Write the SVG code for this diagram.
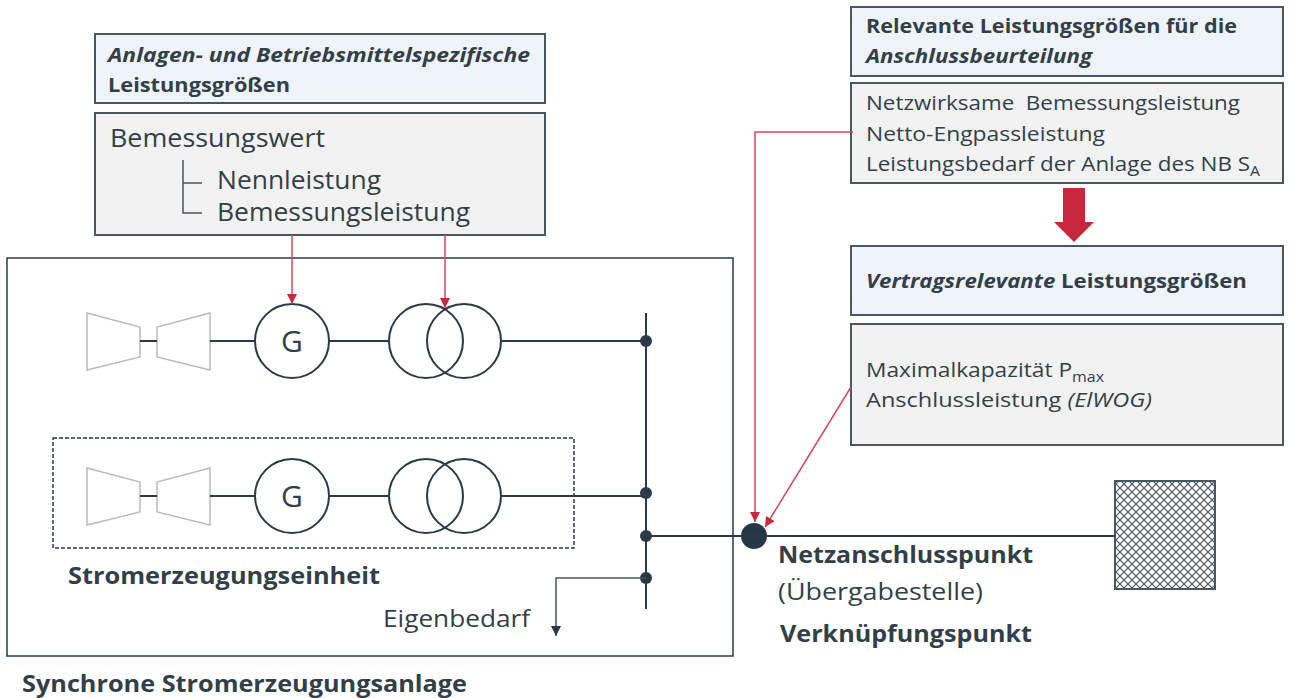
<svg xmlns="http://www.w3.org/2000/svg" width="1295" height="698" viewBox="0 0 1295 698">
<style>
text{font-family:"Open Sans","Noto Sans","Liberation Sans",sans-serif;fill:#333f48}
.hdr{fill:#eef4fa;stroke:#4a5660;stroke-width:2}
.box{fill:#f2f2f2;stroke:#4a5660;stroke-width:2}
.ln{stroke:#2a3a47;stroke-width:2;fill:none}
.thin{stroke:#4a5660;stroke-width:1.5;fill:none}
.turb{stroke:#b8bcc0;stroke-width:1.5;fill:none}
.red{stroke:#d9475c;stroke-width:1.5;fill:none}
.b{font-weight:700}
.i{font-style:italic}
.h{font-size:20px}
.t{font-size:20px}
.big{font-size:25px}
.lab{font-size:23px}
</style>
<defs>
<marker id="ra" viewBox="0 0 10 10" refX="10" refY="5" markerWidth="10" markerHeight="10" markerUnits="userSpaceOnUse" orient="auto"><path d="M0,0 L10,5 L0,10 z" fill="#c8283c"/></marker>
<marker id="ka" viewBox="0 0 10 10" refX="10" refY="5" markerWidth="10" markerHeight="10" markerUnits="userSpaceOnUse" orient="auto"><path d="M0,0 L10,5 L0,10 z" fill="#2a3a47"/></marker>
<pattern id="hatch" width="8" height="8" patternUnits="userSpaceOnUse">
<path d="M0,0 L8,8 M8,0 L0,8" stroke="#4a5660" stroke-width="1.2"/>
</pattern>
</defs>

<g id="outer-plant">
<rect x="7" y="258" width="726" height="398" fill="none" stroke="#2a3a47" stroke-width="1.5"/>
</g>

<g id="unit-box">
<rect x="53" y="438" width="521" height="110" fill="none" stroke="#2a3a47" stroke-width="1.5" stroke-dasharray="4,2"/>
</g>

<g id="left-header">
<rect class="hdr" x="95" y="34" width="450" height="69"/>
<text class="h b i" x="108" y="62" textLength="422" lengthAdjust="spacingAndGlyphs">Anlagen- und Betriebsmittelspezifische</text>
<text class="h b" x="108" y="92" textLength="182" lengthAdjust="spacingAndGlyphs">Leistungsgrößen</text>
</g>

<g id="left-values">
<rect class="box" x="95" y="113" width="450" height="122"/>
<text class="big" x="110" y="147" textLength="215" lengthAdjust="spacingAndGlyphs">Bemessungswert</text>
<path class="thin" d="M183,160 V213 H202 M183,183 H202"/>
<text class="big" x="217" y="189" textLength="164" lengthAdjust="spacingAndGlyphs">Nennleistung</text>
<text class="big" x="217" y="221" textLength="253" lengthAdjust="spacingAndGlyphs">Bemessungsleistung</text>
</g>

<g id="right-header">
<rect class="hdr" x="851" y="7" width="432" height="69"/>
<text class="h b" x="866" y="33" textLength="371" lengthAdjust="spacingAndGlyphs">Relevante Leistungsgrößen für die</text>
<text class="h b i" x="866" y="63" textLength="226" lengthAdjust="spacingAndGlyphs">Anschlussbeurteilung</text>
</g>

<g id="right-values">
<rect class="box" x="851" y="83" width="432" height="100"/>
<text class="t" x="866" y="110" textLength="374" lengthAdjust="spacingAndGlyphs" xml:space="preserve">Netzwirksame  Bemessungsleistung</text>
<text class="t" x="866" y="141" textLength="239" lengthAdjust="spacingAndGlyphs">Netto-Engpassleistung</text>
<text class="t" x="866" y="171" textLength="394" lengthAdjust="spacingAndGlyphs">Leistungsbedarf der Anlage des NB S<tspan font-size="14" dy="5">A</tspan></text>
</g>

<g id="big-arrow">
<path d="M1063,188 H1085 V222 H1094 L1074,242 L1054,222 H1063 Z" fill="#c8283c"/>
</g>

<g id="contract-header">
<rect class="hdr" x="851" y="246" width="432" height="69"/>
<text class="h b" x="866" y="288" textLength="381" lengthAdjust="spacingAndGlyphs"><tspan class="i">Vertragsrelevante</tspan> Leistungsgrößen</text>
</g>

<g id="contract-values">
<rect class="box" x="851" y="324" width="432" height="121"/>
<text class="t" x="866" y="377" textLength="238" lengthAdjust="spacingAndGlyphs">Maximalkapazität P<tspan font-size="14" dy="5">max</tspan></text>
<text class="t" x="866" y="407" textLength="286" lengthAdjust="spacingAndGlyphs">Anschlussleistung <tspan class="i">(ElWOG)</tspan></text>
</g>

<g id="turbine-1">
<path class="turb" d="M87,313 L140,327 V357 L87,370 Z M210,313 L157,327 V357 L210,370 Z"/>
<path class="ln" d="M140,341 H157" stroke-width="1.5"/>
</g>
<g id="generator-1">
<circle class="ln" cx="292" cy="341" r="37" stroke-width="1.8"/>
<text x="292" y="352" text-anchor="middle" font-size="30">G</text>
</g>
<g id="transformer-1">
<circle class="ln" cx="426" cy="341" r="37" stroke-width="1.8"/>
<circle class="ln" cx="464" cy="341" r="37" stroke-width="1.8"/>
</g>

<g id="turbine-2">
<path class="turb" d="M87,468 L140,482 V512 L87,525 Z M210,468 L157,482 V512 L210,525 Z"/>
<path class="ln" d="M140,496 H157" stroke-width="1.5"/>
</g>
<g id="generator-2">
<circle class="ln" cx="292" cy="496" r="37" stroke-width="1.8"/>
<text x="292" y="507" text-anchor="middle" font-size="30">G</text>
</g>
<g id="transformer-2">
<circle class="ln" cx="426" cy="496" r="37" stroke-width="1.8"/>
<circle class="ln" cx="464" cy="496" r="37" stroke-width="1.8"/>
</g>

<g id="busbar">
<path class="ln" d="M646,313 V609"/>
<circle cx="646" cy="341" r="6" fill="#2a3a47"/>
<circle cx="646" cy="493" r="6" fill="#2a3a47"/>
<circle cx="646" cy="536" r="6" fill="#2a3a47"/>
<circle cx="646" cy="578" r="6" fill="#2a3a47"/>
</g>

<g id="grid-connection-point">
<circle cx="754" cy="536" r="13" fill="#263845"/>
<text class="lab b" x="778" y="563" textLength="255" lengthAdjust="spacingAndGlyphs">Netzanschlusspunkt</text>
<text class="lab" x="778" y="600" textLength="205" lengthAdjust="spacingAndGlyphs">(Übergabestelle)</text>
<text class="lab b" x="780" y="642" textLength="252" lengthAdjust="spacingAndGlyphs">Verknüpfungspunkt</text>
</g>

<g id="grid">
<rect x="1115" y="481" width="100" height="108" fill="url(#hatch)" stroke="#4a5660" stroke-width="2"/>
</g>

<g id="labels">
<text class="lab b" x="68" y="584" textLength="312" lengthAdjust="spacingAndGlyphs">Stromerzeugungseinheit</text>
<text class="lab" x="383" y="627" textLength="147" lengthAdjust="spacingAndGlyphs">Eigenbedarf</text>
<text class="lab b" x="22" y="692" textLength="445" lengthAdjust="spacingAndGlyphs">Synchrone Stromerzeugungsanlage</text>
</g>

<g id="connectors">
<path class="ln" d="M210,341 H255 M329,341 H389 M501,341 H646"/>
<path class="ln" d="M210,496 H255 M329,496 H389 M501,496 H646"/>
<path class="ln" d="M646,536 H1115"/>
<path class="thin" d="M646,578 H556 V636" marker-end="url(#ka)"/>
<path class="red" d="M292,235 V304" marker-end="url(#ra)"/>
<path class="red" d="M445,235 V308" marker-end="url(#ra)"/>
<path class="red" d="M853,132 H755 V522" marker-end="url(#ra)"/>
<path class="red" d="M851,387 L765,527" marker-end="url(#ra)"/>
</g>
</svg>
